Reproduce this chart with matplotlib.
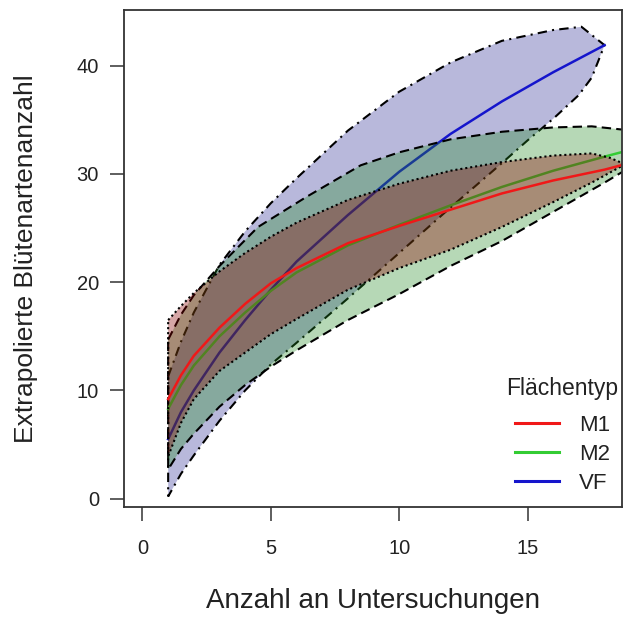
import matplotlib
matplotlib.use('Agg')
import matplotlib.pyplot as plt
from matplotlib.lines import Line2D

plt.rcParams['font.family'] = ['Liberation Sans', 'DejaVu Sans']

# estimated curves (x = Anzahl an Untersuchungen)
m1_x = [1, 1.5, 2, 3, 4, 5, 6, 8, 10, 12, 14, 16, 18, 18.8]
m1_y = [9.2, 11.4, 13.2, 15.8, 18.0, 19.9, 21.3, 23.6, 25.2, 26.7, 28.2, 29.4, 30.4, 30.9]
m1_up_x = [1, 1.5, 2, 3, 4, 5, 6, 8, 10, 12, 14, 16, 17.5, 18.2, 18.8]
m1_up = [16.5, 17.8, 19.0, 21.0, 22.7, 24.2, 25.5, 27.6, 29.1, 30.3, 31.1, 31.7, 31.9, 31.5, 30.9]
m1_lo_x = [1, 1.5, 2, 3, 4, 5, 6, 8, 10, 12, 14, 16, 17.5, 18.8]
m1_lo = [3.9, 7.0, 9.2, 11.8, 13.5, 15.2, 16.6, 19.3, 21.3, 23.0, 25.1, 27.4, 29.2, 30.9]

m2_x = [1, 1.5, 2, 3, 4, 5, 6, 8, 10, 12, 14, 16, 18, 19.6]
m2_y = [8.3, 10.5, 12.3, 15.0, 17.2, 19.2, 20.9, 23.4, 25.3, 27.1, 28.8, 30.3, 31.6, 32.6]
m2_up_x = [1, 1.5, 2, 3, 4.5, 6.4, 8.5, 10, 12, 14, 16, 17.5, 18.7, 19.6]
m2_up = [14.7, 17.0, 18.8, 21.5, 25.1, 27.9, 30.8, 32.0, 33.2, 33.9, 34.3, 34.4, 34.1, 32.6]
m2_lo_x = [1, 1.5, 2, 3, 4, 5, 6, 8, 10, 12, 14, 16, 18, 18.7, 19.6]
m2_lo = [2.7, 4.6, 6.0, 8.5, 10.5, 12.2, 13.7, 16.5, 18.9, 21.5, 23.8, 26.5, 29.2, 30.2, 32.6]

vf_x = [1, 1.5, 2, 3, 4, 5, 6, 8, 10, 12, 14, 16, 18]
vf_y = [5.5, 8.0, 10.0, 13.5, 16.5, 19.3, 21.9, 26.2, 30.2, 33.7, 36.7, 39.4, 41.9]
vf_up_x = [1, 1.5, 2, 3, 4, 5, 6, 8, 10, 12, 14, 16, 17.1, 18]
vf_up = [11.3, 14.5, 17.2, 21.6, 24.7, 27.3, 29.6, 34.0, 37.6, 40.3, 42.3, 43.3, 43.6, 41.9]
vf_lo_x = [1, 1.5, 2, 3, 4, 5, 6, 8, 10, 12, 14, 15, 16, 17, 17.5, 18]
vf_lo = [0.2, 2.3, 4.0, 7.2, 10.0, 12.4, 14.4, 18.5, 22.7, 26.9, 31.0, 33.1, 35.1, 37.3, 38.9, 41.9]

labels = ['M1', 'M2', 'VF']
line_cols = ['#F01818', '#33CC33', '#1515CC']
fill_cols = ['#8B0000', '#228B22', '#000080']
fill_alpha = [0.35, 0.33, 0.28]
border_ls = [(0, (1, 1.4)), (0, (4.5, 2.5)), (0, (4.5, 2.5, 1, 2.5))]

fig = plt.figure(figsize=(6.24, 6.22), dpi=100)
ax = fig.add_axes([124 / 624, 1 - 507 / 622, 498 / 624, 497 / 622])

series = [
    (m1_x, m1_y, m1_up_x, m1_up, m1_lo_x, m1_lo),
    (m2_x, m2_y, m2_up_x, m2_up, m2_lo_x, m2_lo),
    (vf_x, vf_y, vf_up_x, vf_up, vf_lo_x, vf_lo),
]

# draw VF first, then M2, then M1 on top
for i in [2, 1, 0]:
    x, y, ux, uy, lx, ly = series[i]
    px = list(ux) + list(lx[::-1])
    py = list(uy) + list(ly[::-1])
    ax.fill(px, py, facecolor=fill_cols[i], alpha=fill_alpha[i], edgecolor='none', zorder=2)
    ax.fill(px, py, facecolor='none', edgecolor='black', linestyle=border_ls[i],
            linewidth=1.5, zorder=2)
    ax.plot(x, y, color=line_cols[i], linewidth=1.8, zorder=2)

ax.set_xlim(-0.72, 18.68)
ax.set_ylim(-0.77, 45.15)
ax.set_xticks([0, 5, 10, 15])
ax.set_yticks([0, 10, 20, 30, 40])
ax.tick_params(axis='both', direction='out', length=10, width=1.1, color='#333333',
               labelsize=14.5, labelcolor='#222222')
ax.tick_params(axis='x', pad=13)
ax.tick_params(axis='y', pad=8)
for s in ax.spines.values():
    s.set_color('#333333')
    s.set_linewidth(1.3)

ax.set_xlabel('Anzahl an Untersuchungen', fontsize=20, color='#222222', va='center')
ax.xaxis.set_label_coords(0.5, -(601 - 507) / 497)
ax.set_ylabel('Extrapolierte Blütenartenanzahl', fontsize=19, color='#222222', va='center')
ax.yaxis.set_label_coords(-(124 - 26) / 498, 0.5)

handles = [Line2D([0], [0], color=c, linewidth=2.2) for c in line_cols]
leg = ax.legend(handles, labels, title='Flächentyp', loc='lower right',
                bbox_to_anchor=(1.0 + 10 / 498, 0.0), frameon=False, fontsize=16,
                title_fontsize=16.5, handlelength=2.0, handletextpad=0.9,
                labelspacing=0.35, borderaxespad=0.2)
leg._legend_box.sep = 11
leg.get_title().set_color('#222222')
for t in leg.get_texts():
    t.set_color('#222222')

fig.savefig('out.png', dpi=100)
